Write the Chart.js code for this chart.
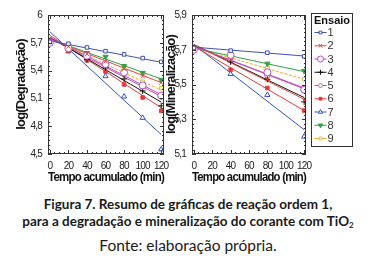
<!DOCTYPE html>
<html><head><meta charset="utf-8">
<script src="https://cdn.jsdelivr.net/npm/chart.js@4"></script>
<style>
html,body{margin:0;padding:0;background:#fff}
body{width:376px;height:260px;position:relative;overflow:hidden}
canvas{position:absolute;top:0}
#cA{left:0}
#cB{left:162px}
.cap{position:absolute;left:0;width:376px;text-align:center;font-family:Lato,'Open Sans',sans-serif;color:#1a1a1a;white-space:nowrap}
.b{font-weight:700;font-size:13.5px;line-height:16px}
.r{font-weight:400;font-size:15.5px;line-height:18px}
sub{font-size:8px;vertical-align:-2px;line-height:0}
</style>
</head><body>
<canvas id="cA" width="172" height="190"></canvas>
<canvas id="cB" width="214" height="190"></canvas>
<div class="cap b" style="top:196px">Figura 7. Resumo de gráficas de reação ordem 1,</div>
<div class="cap b" style="top:213px">para a degradação e mineralização do corante com TiO<sub>2</sub></div>
<div class="cap r" style="top:236px">Fonte: elaboração própria.</div>
<script>
// ---------- data ----------
const seriesLabels = ['1','2','3','4','5','6','7','8','9'];
const xTicks = [0,20,40,60,80,100,120];
const fitX = [0,120];

// Degradação (left panel)
const degX = [0,20,40,60,80,100,120];
const deg1 = [5.71,5.69,5.65,5.61,5.575,5.535,5.495];
const deg2 = [5.71,5.66,5.58,5.50,5.42,5.34,5.27];
const deg3 = [5.70,5.64,5.56,5.47,5.38,5.24,5.13];
const deg4 = [5.71,5.63,5.52,5.43,5.31,5.18,5.02];
const deg5 = [5.71,5.64,5.55,5.47,5.37,5.23,5.12];
const deg6 = [5.71,5.61,5.51,5.39,5.25,5.11,4.965];
const deg7 = [5.70,5.61,5.53,5.34,5.12,4.89,4.55];
const deg8 = [5.72,5.67,5.59,5.55,5.45,5.375,5.30];
const deg9 = [5.71,5.66,5.58,5.49,5.41,5.28,5.21];
const degFitStart = [5.72,5.74,5.76,5.76,5.75,5.78,5.82,5.74,5.75];
const degFitEnd   = [5.49,5.27,5.14,5.06,5.12,5.00,4.71,5.31,5.19];
const degYTicks = [4.5,4.8,5.1,5.4,5.7,6.0];

// Mineralização (right panel)
const minX = [0,40,80,120];
const min1 = [5.71,5.695,5.683,5.662];
const min2 = [5.71,5.64,5.53,5.41];
const min3 = [5.70,5.67,5.57,5.47];
const min4 = [5.71,5.63,5.53,5.40];
const min5 = [5.71,5.65,5.55,5.475];
const min6 = [5.71,5.585,5.48,5.35];
const min7 = [5.71,5.56,5.44,5.20];
const min8 = [5.71,5.665,5.62,5.578];
const min9 = [5.71,5.66,5.595,5.53];
const minFitStart = [5.715,5.73,5.72,5.73,5.72,5.72,5.73,5.71,5.715];
const minFitEnd   = [5.664,5.415,5.48,5.425,5.475,5.35,5.24,5.574,5.53];
const minYTicks = [5.1,5.3,5.5,5.7,5.9];

// ---------- styles ----------
const colors     = ['#4050b8','#e8453a','#b84cc4','#111111','#c2509c','#e63a3a','#3552c8','#34a044','#c8cc3c'];
const lineColors = ['#4050b8','#e8453a','#b84cc4','#111111','#c2509c','#e63a3a','#3552c8','#34a044','#f0a830'];
const styles = [
  {pointStyle:'rect',radius:2.5,fill:'#ffffff'},
  {pointStyle:'crossRot',radius:3,fill:'#ffffff'},
  {pointStyle:'circle',radius:3.5,fill:'#ffffff'},
  {pointStyle:'cross',radius:3,fill:'#ffffff'},
  {pointStyle:'rectRot',radius:3,fill:'#ffffff'},
  {pointStyle:'rect',radius:2.5,fill:null},
  {pointStyle:'triangle',radius:3,fill:'#ffffff'},
  {pointStyle:'triangle',radius:3,fill:null,rotation:180},
  {pointStyle:'rect',radius:2.5,fill:'#ffffff'}
];

const tickFont = {family:"'Liberation Sans',Arial,sans-serif",size:10};
const xTitleFont = {family:"'Liberation Sans',Arial,sans-serif",size:12,weight:'bold'};
const yTitleFont = {family:"'Liberation Sans',Arial,sans-serif",size:13,weight:'bold'};
const fmt = v => String(Math.round(v*10)/10).replace('.',',');

function buildDatasets(xs, series, fs, fe){
  const out = [];
  series.forEach((ys,i)=>{
    out.push({
      label: seriesLabels[i], isSeries:true,
      data: ys.map((y,k)=>({x:xs[k],y})),
      showLine:false,
      borderColor: colors[i],
      backgroundColor: styles[i].fill || colors[i],
      pointStyle: styles[i].pointStyle,
      pointRadius: styles[i].radius,
      pointRotation: styles[i].rotation||0,
      pointBorderWidth: 1,
      order: 1
    });
  });
  series.forEach((ys,i)=>{
    out.push({
      label: 'fit '+seriesLabels[i],
      data: [{x:fitX[0],y:fs[i]},{x:fitX[1],y:fe[i]}],
      showLine:true, pointRadius:0,
      borderColor: lineColors[i], borderWidth:1,
      borderDash: i===8 ? [3,1.5] : [],
      order: 2
    });
  });
  return out;
}

const spacingPlugin = {
  id:'spacing',
  beforeUpdate(c){ c.ctx.letterSpacing = '-0.8px'; },
  beforeDraw(c){ c.ctx.letterSpacing = '-0.8px'; }
};

const framePlugin = {
  id:'frame',
  afterDatasetsDraw(chart, args, o){
    const {ctx, chartArea:a, scales:{x:xs,y:ys}} = chart;
    ctx.save();
    ctx.strokeStyle = '#333'; ctx.lineWidth = 1;
    ctx.strokeRect(a.left+0.5, a.top+0.5, a.right-a.left-1, a.bottom-a.top-1);
    ctx.beginPath();
    const nx = Math.round((o.x1-o.x0)/o.xs);
    for(let k=0;k<=nx;k++){
      const v = o.x0 + k*o.xs;
      const px = Math.round(xs.getPixelForValue(v))+0.5;
      const L = (k % o.xm === 0) ? 4 : 2;
      ctx.moveTo(px,a.bottom); ctx.lineTo(px,a.bottom-L);
      ctx.moveTo(px,a.top); ctx.lineTo(px,a.top+L);
    }
    const ny = Math.round((o.y1-o.y0)/o.ys);
    for(let k=0;k<=ny;k++){
      const v = o.y0 + k*o.ys;
      const py = Math.round(ys.getPixelForValue(v))+0.5;
      const L = (k % o.ym === 0) ? 4 : 2;
      ctx.moveTo(a.left,py); ctx.lineTo(a.left+L,py);
      ctx.moveTo(a.right,py); ctx.lineTo(a.right-L,py);
    }
    ctx.stroke();
    ctx.restore();
  }
};

const legendPlugin = {
  id:'boxLegend',
  afterDraw(chart){
    const {ctx, chartArea:a} = chart;
    const L = a.right + 5.5, T = a.top - 1.5, W = 41, H = 133;
    ctx.save();
    ctx.letterSpacing = '0px';
    ctx.fillStyle = '#fff';
    ctx.strokeStyle = '#333'; ctx.lineWidth = 1;
    ctx.fillRect(L,T,W,H); ctx.strokeRect(L,T,W,H);
    ctx.fillStyle = '#111';
    ctx.font = "bold 11px 'Liberation Sans',Arial,sans-serif";
    ctx.textAlign = 'center'; ctx.textBaseline = 'middle';
    ctx.fillText('Ensaio', L+W/2, T+7.5);
    ctx.font = "11px 'Liberation Sans',Arial,sans-serif";
    ctx.textAlign = 'left';
    chart.data.datasets.filter(d=>d.isSeries).forEach((d,i)=>{
      const y = T + 19 + i*13.25;
      const li = seriesLabels.indexOf(d.label);
      ctx.strokeStyle = lineColors[li]; ctx.lineWidth = 1;
      ctx.beginPath(); ctx.moveTo(L+3,y); ctx.lineTo(L+15,y); ctx.stroke();
      ctx.fillStyle = d.backgroundColor; ctx.strokeStyle = d.borderColor;
      Chart.helpers.drawPoint(ctx,{pointStyle:d.pointStyle,radius:d.pointRadius-0.5,rotation:d.pointRotation,borderWidth:1},L+9,y);
      ctx.fillStyle = '#333';
      ctx.fillText(d.label, L+16, y+0.5);
    });
    ctx.restore();
  }
};

function makeOptions(yMin,yMax,yTicks,yTitle,yWidth,yTitlePad,xMin,xMax,padRight,frameOpts){
  return {
    responsive:false, animation:false, devicePixelRatio:1,
    layout:{padding:{left:0,right:padRight,top:15,bottom:0}},
    plugins:{legend:{display:false},tooltip:{enabled:false},frame:frameOpts},
    scales:{
      x:{type:'linear',min:xMin,max:xMax,
        grid:{display:false,drawTicks:false},border:{display:false},
        afterBuildTicks:s=>{s.ticks = xTicks.map(v=>({value:v}));},
        afterFit:s=>{s.height=36;s.paddingLeft=0;s.paddingRight=0;},
        ticks:{font:tickFont,color:'#222',padding:6,maxRotation:0,autoSkip:false,callback:v=>String(v)},
        title:{display:true,text:'Tempo acumulado (min)',font:xTitleFont,color:'#111',padding:{top:0,bottom:5}}
      },
      y:{type:'linear',min:yMin,max:yMax,
        grid:{display:false,drawTicks:false},border:{display:false},
        afterBuildTicks:s=>{s.ticks = yTicks.map(v=>({value:v}));},
        afterFit:s=>{s.width=yWidth;s.paddingTop=0;s.paddingBottom=0;},
        ticks:{font:tickFont,color:'#222',padding:6,autoSkip:false,callback:v=>fmt(v)},
        title:{display:true,text:yTitle,font:yTitleFont,color:'#111',padding:{top:yTitlePad,bottom:0}}
      }
    }
  };
}

new Chart(document.getElementById('cA'),{
  type:'scatter',
  data:{datasets:buildDatasets(degX,[deg1,deg2,deg3,deg4,deg5,deg6,deg7,deg8,deg9],degFitStart,degFitEnd)},
  options:makeOptions(4.5,6.0,degYTicks,'log(Degradação)',48,14,-2,123,8,
    {x0:0,x1:120,xs:5,xm:4,y0:4.5,y1:6.0,ys:0.05,ym:6}),
  plugins:[spacingPlugin,framePlugin]
});

new Chart(document.getElementById('cB'),{
  type:'scatter',
  data:{datasets:buildDatasets(minX,[min1,min2,min3,min4,min5,min6,min7,min8,min9],minFitStart,minFitEnd)},
  options:makeOptions(5.1,5.9,minYTicks,'log(Mineralização)',30,2,-2,122,70,
    {x0:0,x1:120,xs:5,xm:4,y0:5.1,y1:5.9,ys:0.025,ym:8}),
  plugins:[spacingPlugin,framePlugin,legendPlugin]
});
</script>
</body></html>
